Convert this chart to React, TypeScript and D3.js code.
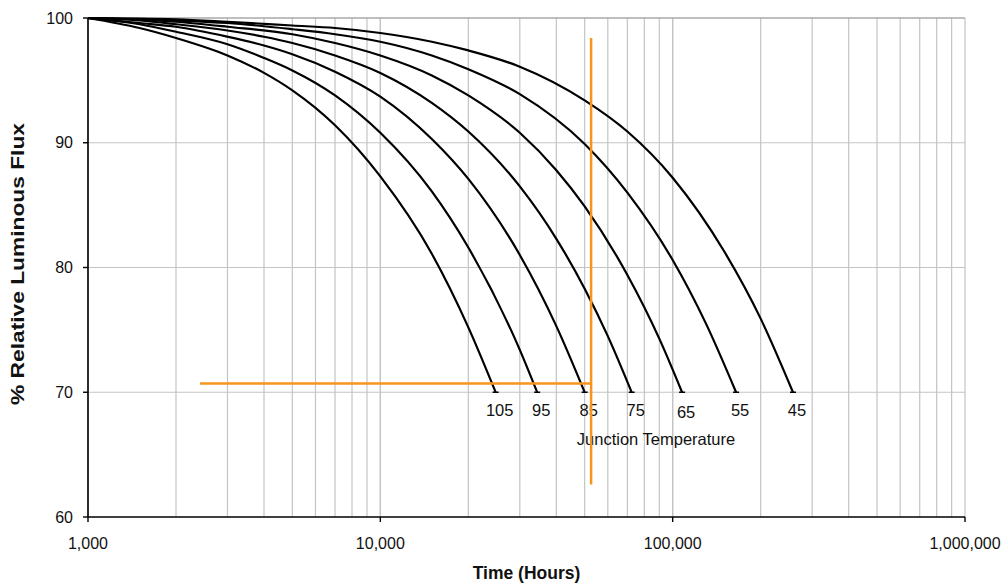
import * as d3 from "d3";

// [hours, % relative luminous flux]
const s105: [number, number][] = [
  [1000, 100], [1500, 99.2], [2000, 98.4], [3000, 97.0], [4000, 95.6], [5000, 94.2],
  [7000, 91.4], [10000, 87.3], [15000, 81.1], [20000, 75.2], [24800, 70],
];
const s95: [number, number][] = [
  [1000, 100], [1500, 99.5], [2000, 98.9], [3000, 97.9], [4000, 96.8], [5000, 95.8],
  [7000, 93.8], [10000, 90.8], [15000, 86.1], [20000, 81.6], [30000, 73.4], [34400, 70],
];
const s85: [number, number][] = [
  [1000, 100], [1500, 99.6], [2000, 99.3], [3000, 98.5], [4000, 97.8], [5000, 97.1],
  [7000, 95.7], [10000, 93.7], [15000, 90.3], [20000, 87.1], [30000, 81.0], [40000, 75.3], [50000, 70],
];
const s75: [number, number][] = [
  [1000, 100], [1500, 99.8], [2000, 99.5], [3000, 99.0], [4000, 98.5], [5000, 98.0],
  [7000, 97.0], [10000, 95.6], [15000, 93.2], [20000, 90.9], [30000, 86.5], [40000, 82.3],
  [50000, 78.3], [60000, 74.5], [72400, 70],
];
const s65: [number, number][] = [
  [1000, 100], [2000, 99.7], [3000, 99.3], [5000, 98.7], [7000, 98.0], [10000, 97.0],
  [15000, 95.4], [20000, 93.8], [30000, 90.8], [40000, 87.8], [50000, 84.9], [70000, 79.4],
  [90000, 74.3], [107700, 70],
];
const s55: [number, number][] = [
  [1000, 100], [2000, 99.8], [3000, 99.6], [5000, 99.1], [7000, 98.7], [10000, 98.1],
  [15000, 97.0], [20000, 95.9], [30000, 93.9], [50000, 89.9], [70000, 86.0], [100000, 80.6],
  [130000, 75.5], [164800, 70],
];
const s45: [number, number][] = [
  [1000, 100], [2000, 99.9], [3000, 99.7], [5000, 99.4], [7000, 99.2], [10000, 98.8],
  [15000, 98.1], [20000, 97.4], [30000, 96.1], [50000, 93.4], [70000, 90.9], [100000, 87.2],
  [150000, 81.3], [200000, 75.9], [258000, 70],
];

const temps = ["105", "95", "85", "75", "65", "55", "45"];
const series = [s105, s95, s85, s75, s65, s55, s45];

const yTicks = [60, 70, 80, 90, 100];
const xMajor = [1000, 10000, 100000, 1000000];

// orange reference lines
const refHours = 52600;
const refFlux = 70.7;
const refStartHours = 2415;
const refFluxRange = [62.6, 98.4];

const width = 1006;
const height = 585;
const margin = { top: 18, right: 41, bottom: 68, left: 88 };
const font = "Arial, 'Liberation Sans', Helvetica, sans-serif";

export default function App() {
  const x = d3.scaleLog().domain([1000, 1000000]).range([margin.left, width - margin.right]);
  const y = d3.scaleLinear().domain([60, 100]).range([height - margin.bottom, margin.top]);

  const minor: number[] = [];
  for (let d = 1000; d < 1000000; d *= 10) {
    for (let k = 1; k <= 10; k++) minor.push(d * k);
  }

  const line = d3
    .line<[number, number]>()
    .x((d) => x(d[0]))
    .y((d) => y(d[1]))
    .curve(d3.curveMonotoneX);

  const fmt = d3.format(",");
  const x0 = margin.left;
  const x1 = width - margin.right;
  const y0 = height - margin.bottom;

  return (
    <svg
      width={width}
      height={height}
      style={{ position: "absolute", left: 0, top: 0, background: "#fff" }}
      fontFamily={font}
    >
      {/* grid */}
      {minor.map((v) => (
        <line key={v} x1={x(v)} x2={x(v)} y1={margin.top} y2={y0} stroke="#c4c4c4" strokeWidth={1.2} />
      ))}
      {yTicks.slice(1, -1).map((v) => (
        <line key={v} x1={x0} x2={x1} y1={y(v)} y2={y(v)} stroke="#c4c4c4" strokeWidth={1.2} />
      ))}
      <line x1={x0} x2={x1} y1={y(100)} y2={y(100)} stroke="#a8a8a8" strokeWidth={1.6} />

      {/* curves */}
      {series.map((s, i) => (
        <g key={temps[i]}>
          <path d={line(s) ?? ""} fill="none" stroke="#000" strokeWidth={2.2} />
          <line
            x1={x(s[s.length - 1][0]) - 3}
            x2={x(s[s.length - 1][0]) + 3}
            y1={y(70)}
            y2={y(70)}
            stroke="#000"
            strokeWidth={1.5}
          />
          <text
            x={x(s[s.length - 1][0]) + 4}
            y={y(70) + (temps[i] === "65" ? 26 : 24)}
            textAnchor="middle"
            fontSize={16.5}
            fill="#111"
          >
            {temps[i]}
          </text>
        </g>
      ))}
      <text x={656} y={y(70) + 53} textAnchor="middle" fontSize={16.5} fill="#111">
        Junction Temperature
      </text>

      {/* orange reference lines */}
      <line
        x1={x(refStartHours)}
        x2={x(refHours)}
        y1={y(refFlux)}
        y2={y(refFlux)}
        stroke="#F7941D"
        strokeWidth={2.5}
      />
      <line
        x1={x(refHours)}
        x2={x(refHours)}
        y1={y(refFluxRange[0])}
        y2={y(refFluxRange[1])}
        stroke="#F7941D"
        strokeWidth={2.5}
      />

      {/* axes */}
      <line x1={x0} x2={x0} y1={margin.top} y2={y0} stroke="#000" strokeWidth={1.6} />
      <line x1={x0} x2={x1} y1={y0} y2={y0} stroke="#000" strokeWidth={1.6} />
      {yTicks.map((v) => (
        <g key={v}>
          <line x1={x0 - 5} x2={x0} y1={y(v)} y2={y(v)} stroke="#000" strokeWidth={1.4} />
          <text x={x0 - 15} y={y(v)} dy="0.35em" textAnchor="end" fontSize={16} fill="#111">
            {v}
          </text>
        </g>
      ))}
      {xMajor.map((v) => (
        <g key={v}>
          <line x1={x(v)} x2={x(v)} y1={y0} y2={y0 + 5} stroke="#000" strokeWidth={1.4} />
          <text x={x(v)} y={y0 + 32} textAnchor="middle" fontSize={16} fill="#111">
            {fmt(v)}
          </text>
        </g>
      ))}

      {/* titles */}
      <text x={(x0 + x1) / 2} y={579} textAnchor="middle" fontSize={17.5} fontWeight="bold" fill="#111">
        Time (Hours)
      </text>
      <text
        transform={`translate(24, 264) rotate(-90)`}
        textAnchor="middle"
        fontSize={18}
        fontWeight="bold"
        fill="#111"
        textLength={282}
        lengthAdjust="spacingAndGlyphs"
      >
        % Relative Luminous Flux
      </text>
    </svg>
  );
}
